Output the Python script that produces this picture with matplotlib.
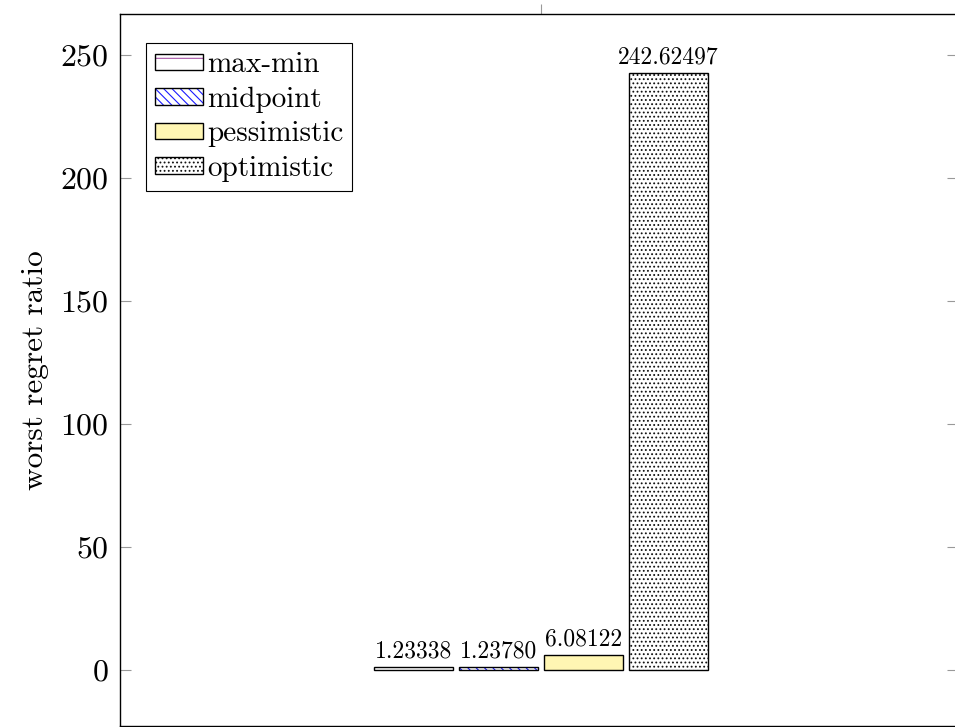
import matplotlib
matplotlib.use('Agg')
import matplotlib.pyplot as plt
from matplotlib.patches import Patch
import numpy as np

plt.rcParams['font.family'] = 'cmr10'
plt.rcParams['mathtext.fontset'] = 'cm'
plt.rcParams['axes.formatter.use_mathtext'] = True
plt.rcParams['hatch.linewidth'] = 0.8

methods = ['max-min', 'midpoint', 'pessimistic', 'optimistic']
values = [1.23338, 1.23780, 6.08122, 242.62497]
face_colors = ['white', 'white', '#fff6b3', 'white']
hatch_colors = ['#a855a8', '#1a1aff', '#fff6b3', '#111111']
hatches = ['-', '\\\\\\\\', '', '....']
y_ticks = [0, 50, 100, 150, 200, 250]

fig = plt.figure(figsize=(9.55, 7.27), dpi=100)
ax = fig.add_axes([120 / 955, 1 / 727, 838 / 955, 712 / 727])

x = np.arange(len(methods)) - 1.5
width = 0.94

handles = []
for xi, v, fc, hc, h, name in zip(x, values, face_colors, hatch_colors, hatches, methods):
    ax.bar(xi, v, width, color=fc, edgecolor=hc, hatch=h, linewidth=0)
    b = ax.bar(xi, v, width, fill=False, edgecolor='black', linewidth=1.0)
    ax.bar_label(b, labels=['%.5f' % v], padding=3, fontsize=17)
    handles.append((Patch(facecolor=fc, edgecolor=hc, hatch=h, linewidth=0),
                    Patch(fill=False, edgecolor='black', linewidth=1.0)))

ax.set_xlim(-4.953, 4.906)
ax.set_ylim(-22.76, 266.67)

ax.set_yticks(y_ticks)
ax.tick_params(axis='y', which='both', direction='in', length=8, width=0.8,
               color='#999999', left=True, right=True, labelsize=23, pad=8)
ax.set_xticks([0])
ax.set_xticklabels([])
ax.tick_params(axis='x', direction='out', length=7.5, width=0.8, color='#999999',
               top=True, bottom=False, labeltop=False, labelbottom=False)

for s in ax.spines.values():
    s.set_linewidth(1.0)

ax.set_ylabel('worst regret ratio', fontsize=22.5)
ax.yaxis.set_label_coords(-0.085, 0.5)

leg = ax.legend(handles, methods, loc='upper left', bbox_to_anchor=(0.031, 0.959),
                borderaxespad=0, fontsize=21, fancybox=False, framealpha=1,
                edgecolor='black', handlelength=1.65, handleheight=0.5,
                handletextpad=0.15, labelspacing=0.28, borderpad=0.3)
leg.get_frame().set_linewidth(0.8)

fig.savefig('out.png', dpi=100)
